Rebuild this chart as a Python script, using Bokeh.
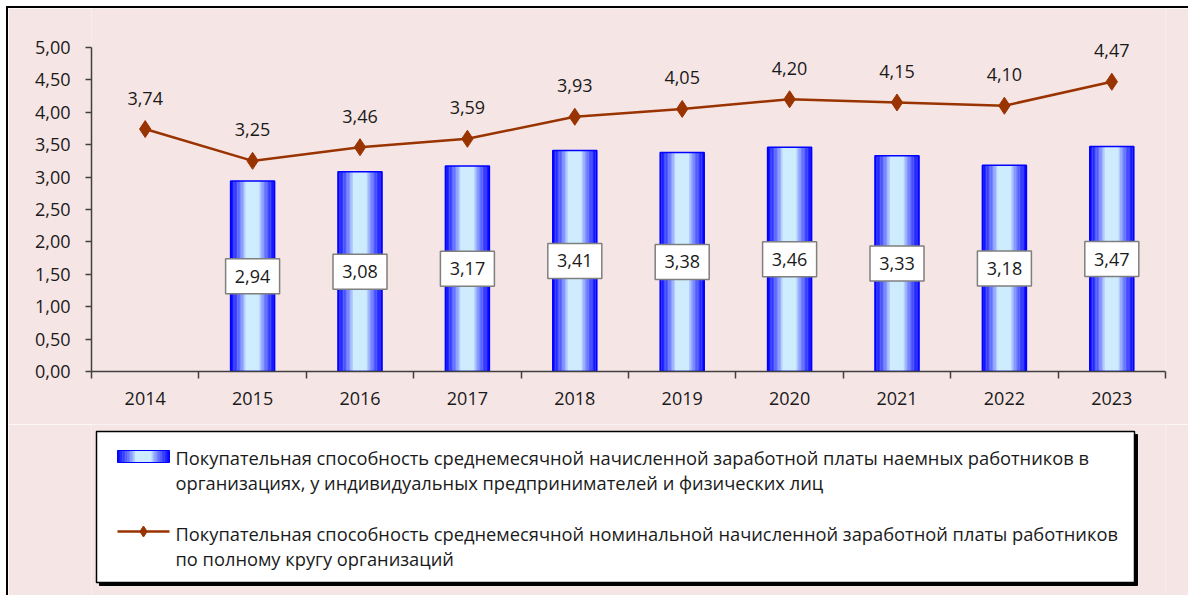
import numpy as np
from bokeh.plotting import figure
from bokeh.models import Range1d, FixedTicker, ColumnDataSource, LabelSet
from bokeh.layouts import column
from bokeh.core.properties import value
from bokeh.embed import file_html
from bokeh.resources import INLINE

# ---------------- data ----------------
years = ["2014", "2015", "2016", "2017", "2018", "2019", "2020", "2021", "2022", "2023"]
bar_values = [np.nan, 2.94, 3.08, 3.17, 3.41, 3.38, 3.46, 3.33, 3.18, 3.47]
line_values = [3.74, 3.25, 3.46, 3.59, 3.93, 4.05, 4.20, 4.15, 4.10, 4.47]
y_ticks = [0.0, 0.5, 1.0, 1.5, 2.0, 2.5, 3.0, 3.5, 4.0, 4.5, 5.0]
y_tick_labels = ["0,00", "0,50", "1,00", "1,50", "2,00", "2,50", "3,00", "3,50", "4,00", "4,50", "5,00"]
legend_bar_lines = [
    "Покупательная способность среднемесячной начисленной заработной платы наемных работников в",
    "организациях, у индивидуальных предпринимателей и физических лиц",
]
legend_line_lines = [
    "Покупательная способность среднемесячной номинальной начисленной заработной платы работников",
    "по полному кругу организаций",
]

# ---------------- styles ----------------
BG = "#F6E5E5"
FONT = "Open Sans"
FS = "18px"
TXT = "#1a1a1a"
AX = "#404040"
LINE_C = "#993300"
BLUE = np.array([0, 0, 255])
LIGHT = np.array([204, 236, 255])
W = 0.41
NSTRIP = 32
FIG_W = 1180
ML, MR = 83, 23
Y_HEADROOM = 0.6  # extra room above the axis for the data labels


def grad_color(t):
    f = min(max((t - 0.3) / 0.7, 0.0), 1.0) ** 0.75
    c = LIGHT * (1 - f) + BLUE * f
    return "#%02x%02x%02x" % tuple(int(round(v)) for v in c)


def fmt(v):
    return ("%.2f" % v).replace(".", ",")


xs = np.arange(len(years), dtype=float)

p = figure(width=FIG_W, height=416, x_range=Range1d(-0.5, len(years) - 0.5),
           y_range=Range1d(y_ticks[0], y_ticks[-1] + Y_HEADROOM),
           output_backend="svg", toolbar_location=None,
           min_border_left=ML, min_border_right=MR, min_border_top=0, min_border_bottom=53,
           background_fill_color=BG, border_fill_color=BG, outline_line_color=None)
p.grid.visible = False

# y axis
p.yaxis.bounds = (y_ticks[0], y_ticks[-1])
p.yaxis.ticker = FixedTicker(ticks=y_ticks)
p.yaxis.major_label_overrides = {t: l for t, l in zip(y_ticks, y_tick_labels)}
p.yaxis.axis_line_color = AX
p.yaxis.axis_line_width = 1.5
p.yaxis.major_tick_line_color = AX
p.yaxis.major_tick_line_width = 1.5
p.yaxis.major_tick_out = 6
p.yaxis.major_tick_in = 0
p.yaxis.minor_tick_line_color = None
p.yaxis.major_label_standoff = 15
p.yaxis.major_label_text_font = FONT
p.yaxis.major_label_text_font_size = FS
p.yaxis.major_label_text_color = TXT

# x axis
p.xaxis.ticker = FixedTicker(ticks=list(xs), minor_ticks=[i - 0.5 for i in range(len(years) + 1)])
p.xaxis.major_label_overrides = {float(i): y for i, y in enumerate(years)}
p.xaxis.axis_line_color = AX
p.xaxis.axis_line_width = 1.5
p.xaxis.major_tick_line_color = None
p.xaxis.minor_tick_line_color = AX
p.xaxis.minor_tick_line_width = 1.5
p.xaxis.minor_tick_out = 7
p.xaxis.minor_tick_in = 0
p.xaxis.major_label_standoff = 13
p.xaxis.major_label_text_font = FONT
p.xaxis.major_label_text_font_size = FS
p.xaxis.major_label_text_color = TXT

# gradient bars
bar_arr = np.array(bar_values, dtype=float)
sw = W / NSTRIP
for k in range(NSTRIP):
    off = -W / 2 + (k + 0.5) * sw
    t = abs(off) / (W / 2)
    p.vbar(x=xs + off, top=bar_arr, bottom=0, width=sw * 1.15,
           fill_color=grad_color(t), line_color=None)
p.vbar(x=xs, top=bar_arr, bottom=0, width=W, fill_color=None, line_color="#0000FF", line_width=1.5)

# bar value labels
mask = ~np.isnan(bar_arr)
bsrc = ColumnDataSource(dict(x=xs[mask], y=bar_arr[mask] / 2,
                             t=[fmt(v) for v in bar_arr[mask]]))
p.rect(x="x", y="y", width=54, height=35, width_units="screen", height_units="screen",
       fill_color="white", line_color="#7f7f7f", line_width=1.5, source=bsrc)
p.text(x="x", y="y", text="t", text_align="center", text_baseline="middle",
       text_font=value(FONT), text_font_size=FS, text_color=TXT, source=bsrc)

# line series
lsrc = ColumnDataSource(dict(x=xs, y=line_values, t=[fmt(v) for v in line_values]))
p.line(x="x", y="y", line_color=LINE_C, line_width=2.5, source=lsrc)
p.scatter(x="x", y="y", marker="diamond", size=17, fill_color=LINE_C, line_color=LINE_C, source=lsrc)
p.add_layout(LabelSet(x="x", y="y", text="t", y_offset=31, text_align="center", text_baseline="middle",
                      text_font=value(FONT), text_font_size=FS, text_color=TXT, source=lsrc))

# ---------------- legend ----------------
# legend figure uses canvas-pixel coordinates (frames in a column are aligned)
LH = 171
lf = figure(width=FIG_W, height=LH, x_range=Range1d(ML, FIG_W - MR), y_range=Range1d(LH, 0),
            output_backend="svg", toolbar_location=None,
            min_border_left=ML, min_border_right=MR, min_border_top=0, min_border_bottom=0,
            x_axis_location=None, y_axis_location=None,
            background_fill_color=BG, border_fill_color=BG, outline_line_color=None)
lf.grid.visible = False
BX0, BX1, BY0, BY1 = 88, 1126, 7, 158
lf.quad(left=[BX0 + 3], right=[BX1 + 3], top=[BY0 + 3], bottom=[BY1 + 3], fill_color="black", line_color="black")
lf.quad(left=[BX0], right=[BX1], top=[BY0], bottom=[BY1], fill_color="white", line_color="black", line_width=1.5)

sx0, sx1 = BX0 + 21, BX0 + 73
ssw = (sx1 - sx0) / NSTRIP
for k in range(NSTRIP):
    c = sx0 + (k + 0.5) * ssw
    t = abs(c - (sx0 + sx1) / 2) / ((sx1 - sx0) / 2)
    lf.quad(left=[c - ssw * 0.6], right=[c + ssw * 0.6], top=[BY0 + 19], bottom=[BY0 + 31],
            fill_color=grad_color(t), line_color=None)
lf.quad(left=[sx0], right=[sx1], top=[BY0 + 19], bottom=[BY0 + 31], fill_color=None, line_color="#0000FF", line_width=1)

lf.line(x=[sx0, sx1], y=[BY0 + 100, BY0 + 100], line_color=LINE_C, line_width=2.5)
lf.scatter(x=[(sx0 + sx1) / 2], y=[BY0 + 100], marker="diamond", size=11, fill_color=LINE_C, line_color=LINE_C)

lf.text(x=[BX0 + 79] * 4, y=[BY0 + 26, BY0 + 51, BY0 + 102, BY0 + 127],
        text=legend_bar_lines + legend_line_lines,
        text_align="left", text_baseline="middle",
        text_font=value(FONT), text_font_size="18.3px", text_color=TXT)

layout = column(p, lf, spacing=0,
                styles={"border-top": "2px solid black", "border-left": "2px solid black",
                        "margin-top": "6px", "margin-left": "6px"})

open("out.html", "w").write(file_html(layout, INLINE))
